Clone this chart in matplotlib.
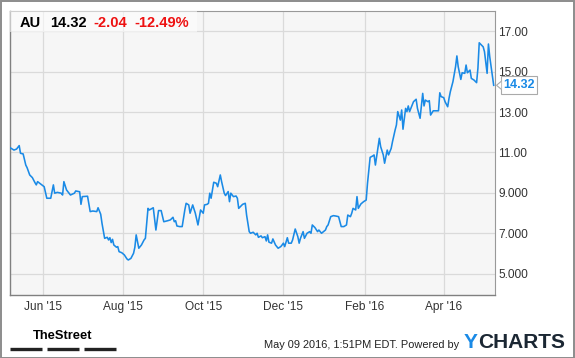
import matplotlib
matplotlib.use("Agg")
import matplotlib.pyplot as plt
import matplotlib.dates as mdates
from matplotlib.patches import Rectangle, Polygon
from matplotlib.lines import Line2D
import pandas as pd

# ---------------- data ----------------
ticker = "AU"
last_price = 14.32
change = "-2.04"
change_pct = "-12.49%"

dates = [
    "2015-05-07", "2015-05-10", "2015-05-12", "2015-05-14", "2015-05-15", "2015-05-17", "2015-05-19", "2015-05-20",
    "2015-05-22", "2015-05-24", "2015-05-26", "2015-05-27", "2015-05-28", "2015-05-30", "2015-06-01", "2015-06-02",
    "2015-06-04", "2015-06-07", "2015-06-09", "2015-06-10", "2015-06-12", "2015-06-15", "2015-06-16", "2015-06-17",
    "2015-06-19", "2015-06-22", "2015-06-25", "2015-06-26", "2015-06-29", "2015-06-30", "2015-07-01", "2015-07-05",
    "2015-07-07", "2015-07-09", "2015-07-12", "2015-07-13", "2015-07-15", "2015-07-16", "2015-07-18", "2015-07-20",
    "2015-07-21", "2015-07-22", "2015-07-23", "2015-07-24", "2015-07-25", "2015-07-27", "2015-07-28", "2015-07-29",
    "2015-07-31", "2015-08-02", "2015-08-04", "2015-08-05", "2015-08-07", "2015-08-09", "2015-08-10", "2015-08-11",
    "2015-08-13", "2015-08-15", "2015-08-17", "2015-08-18", "2015-08-20", "2015-08-21", "2015-08-24", "2015-08-26",
    "2015-08-28", "2015-08-30", "2015-09-01", "2015-09-04", "2015-09-06", "2015-09-08", "2015-09-09", "2015-09-10",
    "2015-09-11", "2015-09-13", "2015-09-15", "2015-09-17", "2015-09-18", "2015-09-20", "2015-09-21", "2015-09-23",
    "2015-09-25", "2015-09-27", "2015-09-29", "2015-10-01", "2015-10-02", "2015-10-04", "2015-10-05", "2015-10-06",
    "2015-10-07", "2015-10-09", "2015-10-11", "2015-10-12", "2015-10-14", "2015-10-15", "2015-10-17", "2015-10-18",
    "2015-10-20", "2015-10-21", "2015-10-22", "2015-10-24", "2015-10-26", "2015-10-27", "2015-10-28", "2015-10-31",
    "2015-11-02", "2015-11-03", "2015-11-05", "2015-11-06", "2015-11-08", "2015-11-10", "2015-11-11", "2015-11-12",
    "2015-11-14", "2015-11-15", "2015-11-17", "2015-11-18", "2015-11-19", "2015-11-20", "2015-11-22", "2015-11-23",
    "2015-11-25", "2015-11-27", "2015-11-29", "2015-11-30", "2015-12-01", "2015-12-02", "2015-12-04", "2015-12-05",
    "2015-12-07", "2015-12-08", "2015-12-10", "2015-12-12", "2015-12-13", "2015-12-14", "2015-12-16", "2015-12-17",
    "2015-12-19", "2015-12-21", "2015-12-22", "2015-12-23", "2015-12-25", "2015-12-27", "2015-12-28", "2015-12-30",
    "2016-01-02", "2016-01-03", "2016-01-04", "2016-01-06", "2016-01-08", "2016-01-10", "2016-01-12", "2016-01-14",
    "2016-01-16", "2016-01-18", "2016-01-19", "2016-01-21", "2016-01-22", "2016-01-23", "2016-01-25", "2016-01-26",
    "2016-01-27", "2016-01-29", "2016-01-31", "2016-02-02", "2016-02-03", "2016-02-05", "2016-02-07", "2016-02-08",
    "2016-02-09", "2016-02-12", "2016-02-13", "2016-02-15", "2016-02-16", "2016-02-18", "2016-02-19", "2016-02-21",
    "2016-02-22", "2016-02-24", "2016-02-25", "2016-02-26", "2016-02-28", "2016-02-29", "2016-03-01", "2016-03-03",
    "2016-03-04", "2016-03-05", "2016-03-06", "2016-03-08", "2016-03-09", "2016-03-11", "2016-03-12", "2016-03-14",
    "2016-03-16", "2016-03-17", "2016-03-18", "2016-03-20", "2016-03-21", "2016-03-22", "2016-03-24", "2016-03-26",
    "2016-03-28", "2016-03-29", "2016-03-30", "2016-04-01", "2016-04-02", "2016-04-04", "2016-04-05", "2016-04-06",
    "2016-04-08", "2016-04-10", "2016-04-11", "2016-04-12", "2016-04-14", "2016-04-15", "2016-04-17", "2016-04-18",
    "2016-04-19", "2016-04-21", "2016-04-22", "2016-04-24", "2016-04-26", "2016-04-27", "2016-04-28", "2016-05-01",
    "2016-05-02", "2016-05-04", "2016-05-05", "2016-05-06", "2016-05-09",
]
prices = [
    11.24, 11.12, 11.17, 11.34, 10.96, 10.93, 10.38, 10.25,
    9.89, 9.76, 9.51, 9.40, 9.56, 9.46, 9.36, 9.31,
    8.74, 8.74, 9.40, 8.99, 9.03, 8.99, 8.90, 9.56,
    9.15, 8.90, 8.99, 9.10, 9.06, 8.44, 8.82, 8.84,
    8.08, 8.11, 8.08, 8.27, 7.95, 7.50, 6.76, 6.81,
    6.68, 6.79, 6.55, 6.71, 6.43, 6.32, 6.35, 6.10,
    6.05, 5.94, 5.74, 5.69, 5.77, 6.02, 6.32, 6.93,
    6.27, 6.43, 6.68, 6.76, 8.24, 8.16, 8.27, 7.17,
    8.13, 8.13, 7.58, 7.63, 7.67, 7.80, 7.58, 7.63,
    7.37, 7.34, 7.34, 8.16, 8.49, 8.41, 8.00, 8.41,
    8.00, 7.42, 8.16, 8.00, 8.41, 8.44, 8.49, 8.99,
    8.74, 9.53, 9.48, 9.31, 9.89, 9.56, 8.99, 8.87,
    9.07, 8.57, 8.99, 8.82, 8.85, 8.74, 8.24, 8.44,
    8.49, 7.91, 7.09, 7.01, 7.06, 6.93, 7.01, 6.81,
    6.88, 6.79, 6.84, 6.63, 6.93, 6.57, 6.52, 6.73,
    6.43, 6.27, 6.35, 6.43, 6.52, 6.35, 6.79, 6.52,
    6.52, 6.68, 7.22, 6.84, 6.52, 6.76, 7.09, 6.76,
    7.01, 7.09, 7.01, 7.42, 7.29, 7.09, 7.17, 7.01,
    7.17, 7.34, 7.42, 7.83, 7.88, 7.86, 7.83, 7.34,
    7.34, 7.42, 7.91, 7.83, 8.00, 8.24, 8.16, 8.82,
    8.24, 8.46, 8.57, 8.65, 9.48, 10.76, 10.83, 10.88,
    10.38, 11.70, 11.29, 10.88, 10.47, 11.12, 10.88, 11.20,
    11.53, 12.11, 12.36, 13.02, 12.60, 13.10, 12.15, 13.18,
    13.02, 13.30, 13.02, 13.35, 13.51, 13.63, 13.18, 12.69,
    13.92, 13.30, 13.59, 13.51, 13.56, 12.85, 13.06, 13.06,
    13.06, 13.95, 13.76, 13.71, 13.51, 13.26, 13.67, 14.00,
    14.50, 15.24, 15.77, 15.24, 14.61, 14.94, 14.91, 15.32,
    14.94, 15.07, 14.66, 14.58, 14.45, 15.16, 16.42, 16.22,
    15.98, 14.91, 16.36, 15.73, 14.32,
]

y_ticks = [5, 7, 9, 11, 13, 15, 17]
y_tick_labels = ["5.000", "7.000", "9.000", "11.00", "13.00", "15.00", "17.00"]
x_ticks = ["2015-06-01", "2015-08-01", "2015-10-01", "2015-12-01", "2016-02-01", "2016-04-01"]
x_tick_labels = ["Jun '15", "Aug '15", "Oct '15", "Dec '15", "Feb '16", "Apr '16"]
x_range = ["2015-05-07", "2016-05-10"]
y_range = [3.96, 17.99]

footer_date = "May 09 2016, 1:51PM EDT. Powered by"

# ---------------- style ----------------
W, H = 575, 358
plt.rcParams["font.family"] = ["Liberation Sans", "DejaVu Sans"]
BLUE = "#1a8ae6"
RED = "#ee1111"
GRID = "#dadada"
TXT = "#333333"

def fx(px):
    return px / W

def fy(py):
    return 1 - py / H

fig = plt.figure(figsize=(W / 100, H / 100), dpi=100)
fig.patch.set_facecolor("white")

ax = fig.add_axes([fx(10), fy(295), fx(495) - fx(10), fy(11) - fy(295)])
ax.set_facecolor("#f6f6f6")

d = pd.to_datetime(dates)
ax.plot(d, prices, color=BLUE, lw=1.15, solid_joinstyle="round", zorder=3)

ax.set_xlim(pd.to_datetime(x_range[0]), pd.to_datetime(x_range[1]))
ax.set_ylim(*y_range)

ax.set_yticks(y_ticks)
ax.set_yticklabels(y_tick_labels)
ax.yaxis.tick_right()
ax.set_xticks(pd.to_datetime(x_ticks))
ax.set_xticklabels(x_tick_labels)
ax.tick_params(axis="both", length=0, labelsize=8.6, colors=TXT)
ax.tick_params(axis="y", pad=2.5)
ax.tick_params(axis="x", pad=4.5)
ax.grid(True, color=GRID, lw=0.9, zorder=0)
ax.set_axisbelow(True)
for s in ["top", "right"]:
    ax.spines[s].set_color("#999999")
    ax.spines[s].set_linewidth(0.8)
for s in ["left", "bottom"]:
    ax.spines[s].set_color("#808080")
    ax.spines[s].set_linewidth(1.0)

# header box
fig.patches.append(Rectangle((fx(10), fy(31.5)), fx(197) - fx(10), fy(11) - fy(31.5),
                             transform=fig.transFigure, facecolor="white", alpha=0.55,
                             edgecolor="none", zorder=5))
hy = fy(23)
fig.text(fx(20), hy, ticker, fontsize=10.5, fontweight="bold", color="black", va="center", zorder=6)
fig.text(fx(50), hy, f"{last_price:.2f}", fontsize=10.5, fontweight="bold", color="black", va="center", zorder=6)
fig.text(fx(93), hy, change, fontsize=10.5, fontweight="bold", color=RED, va="center", zorder=6)
fig.text(fx(134), hy, change_pct, fontsize=10.5, fontweight="bold", color=RED, va="center", zorder=6)

# last price tag
ylast = prices[-1]
disp = ax.transData.transform((mdates.date2num(d[-1]), ylast))
tag_y = fig.transFigure.inverted().transform(disp)[1]
tag_h = 18 / H
fig.patches.append(Rectangle((fx(501), tag_y - tag_h / 2), fx(537) - fx(501), tag_h,
                             transform=fig.transFigure, facecolor="white", edgecolor="#aaaaaa",
                             lw=0.8, zorder=6))
fig.patches.append(Polygon([(fx(501.3), tag_y - 4 / H), (fx(496.5), tag_y), (fx(501.3), tag_y + 4 / H)],
                           closed=False, transform=fig.transFigure, facecolor="white",
                           edgecolor="#aaaaaa", lw=0.8, zorder=7))
fig.text(fx(519), tag_y, f"{ylast:.2f}", fontsize=9, fontweight="bold", color=BLUE,
         ha="center", va="center", zorder=8)

# footer
fig.text(fx(63), fy(336), "TheStreet", fontsize=9.3, fontweight="bold", color="black",
         ha="center", va="center", family=["Liberation Sans Narrow", "Liberation Sans", "DejaVu Sans"])
for x0, x1 in [(10, 42), (47, 79), (84, 115.5)]:
    fig.lines.append(Line2D([fx(x0), fx(x1)], [fy(349), fy(349)], transform=fig.transFigure,
                            color="#222222", lw=2.4, solid_capstyle="butt"))
fig.text(fx(459), fy(344.5), footer_date, fontsize=7.9, color="#222222", ha="right", va="center")
t1 = fig.text(fx(464), fy(342), "Y", fontsize=15, fontweight="bold", color=BLUE, ha="left", va="center")
fig.canvas.draw()
bb = t1.get_window_extent()
fig.text(bb.x1 / W, fy(342), "CHARTS", fontsize=15, fontweight="bold", color="#1b2733",
         ha="left", va="center")

# outer frame
fig.patches.append(Rectangle((0.5 / W, 0.5 / H), (W - 1.5) / W, (H - 1.5) / H, transform=fig.transFigure,
                             facecolor="none", edgecolor="#8c8c8c", lw=1.4, zorder=10))

fig.savefig("out.png", dpi=100)
